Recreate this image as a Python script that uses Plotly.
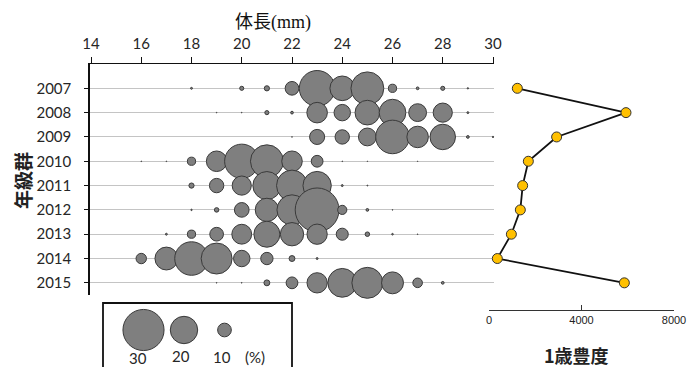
import plotly.graph_objects as go

# ---------------- data ----------------
years = [2007, 2008, 2009, 2010, 2011, 2012, 2013, 2014, 2015]
lengths_mm = [16, 17, 18, 19, 20, 21, 22, 23, 24, 25, 26, 27, 28, 29, 30]

pct_2007 = [0, 0, 1.4, 0, 3, 3.8, 10, 26, 18, 24, 6, 2, 3, 1, 0]
pct_2008 = [0, 0, 0, 0.5, 0.5, 3, 2, 15, 12, 18, 19.5, 13, 14, 1.4, 0]
pct_2009 = [0, 0, 0, 0, 0, 0, 0.5, 11, 10.5, 13, 24.5, 15.7, 18.6, 2, 1]
pct_2010 = [0.5, 0.5, 6, 15, 25, 24, 15, 8.6, 0.5, 0.4, 0, 0.4, 0, 0, 0]
pct_2011 = [0, 0, 3.8, 10.5, 14, 20.5, 22.6, 20.7, 1.4, 0.7, 0, 0, 0, 0, 0]
pct_2012 = [0, 0, 1, 3.3, 10.7, 17, 22, 32, 6.7, 2, 0.5, 0, 0, 0, 0]
pct_2013 = [0, 1.4, 6, 10, 14.5, 19, 17, 14.8, 8.8, 3.3, 1.2, 0.5, 0, 0, 0]
pct_2014 = [7.6, 16.7, 24.5, 22.6, 12, 9, 4.3, 1.4, 0, 0, 0, 0, 0, 0, 0]
pct_2015 = [0, 0, 0, 0.5, 0.5, 4.3, 8.6, 14.8, 21, 22.6, 16, 7, 2, 0, 0]
pct_by_year = [pct_2007, pct_2008, pct_2009, pct_2010, pct_2011,
               pct_2012, pct_2013, pct_2014, pct_2015]

abundance_age1 = [1225, 5924, 2925, 1701, 1456, 1355, 967, 360, 5853]

legend_pct = [30, 20, 10]
legend_labels = ["30", "20", "10", "(%)"]

x_ticks = [14, 16, 18, 20, 22, 24, 26, 28, 30]
x2_ticks = [0, 4000, 8000]

# ---------------- figure ----------------
W, H = 696, 367
OFF = 8  # page body margin
def fx(px): return (px - OFF) / W
def fy(py): return 1 - (py - OFF) / H

SCALE = 1.37
bx, by, bs = [], [], []
for yr, row in zip(years, pct_by_year):
    for L, p in zip(lengths_mm, row):
        if p > 0:
            bx.append(L); by.append(yr); bs.append(SCALE * p)

fig = go.Figure()
fig.add_trace(go.Scatter(
    x=bx, y=by, mode="markers", cliponaxis=False, showlegend=False,
    marker=dict(size=bs, sizemode="diameter", color="#7f7f7f", opacity=1,
                line=dict(color="#3a3a3a", width=1)),
    xaxis="x", yaxis="y"))

fig.add_trace(go.Scatter(
    x=abundance_age1, y=years, mode="lines+markers", cliponaxis=False,
    showlegend=False,
    line=dict(color="#111111", width=1.8),
    marker=dict(size=10, color="#FFC000", opacity=1,
                line=dict(color="#333333", width=1)),
    xaxis="x2", yaxis="y2"))

fig.add_trace(go.Scatter(
    x=[0, 1, 2], y=[27, 27, 27], mode="markers", cliponaxis=False,
    showlegend=False,
    marker=dict(size=[SCALE * v for v in legend_pct], sizemode="diameter",
                color="#7f7f7f", opacity=1,
                line=dict(color="#3a3a3a", width=1)),
    xaxis="x3", yaxis="y3"))

tickfont = dict(family="Lato, Open Sans, sans-serif", size=15, color="#262626")

fig.update_layout(
    width=W, height=H, margin=dict(l=0, r=0, t=0, b=0, autoexpand=False),
    paper_bgcolor="white", plot_bgcolor="rgba(0,0,0,0)",
    xaxis=dict(domain=[fx(90), fx(494)], range=[13.96, 30.04], side="top",
               anchor="y", showline=True, linecolor="#111", linewidth=1,
               ticks="outside", ticklen=6, tickcolor="#111",
               tickvals=x_ticks, tickfont=tickfont, showgrid=False,
               zeroline=False, ticklabelstandoff=2, automargin=False),
    yaxis=dict(domain=[fy(295), fy(64)], range=[2015.5, 2006], anchor="x",
               showline=True, linecolor="#111", linewidth=1.5,
               ticks="outside", ticklen=4, tickcolor="#111",
               tickvals=years, tickfont=tickfont, showgrid=True,
               gridcolor="#c4c4c4", gridwidth=1, zeroline=False,
               ticklabelstandoff=10, automargin=False),
    xaxis2=dict(domain=[fx(489), fx(674)], range=[0, 8000], anchor="free",
                position=fy(310), showline=True, linecolor="#333",
                linewidth=1.2, ticks="inside", ticklen=5, tickcolor="#333",
                tickvals=x2_ticks,
                tickfont=dict(family="Liberation Sans, Arial", size=11,
                              color="#222"),
                showgrid=False, zeroline=False, automargin=False),
    yaxis2=dict(domain=[fy(295), fy(64)], range=[2015.5, 2006], anchor="x2",
                visible=False, showgrid=False, automargin=False),
    xaxis3=dict(domain=[fx(103), fx(292)], range=[-1, 3.667], anchor="y3",
                visible=False, automargin=False),
    yaxis3=dict(domain=[fy(367), fy(303)], range=[64, 0], anchor="x3",
                visible=False, automargin=False),
)

fig.add_shape(type="rect", xref="paper", yref="paper",
              x0=fx(103), x1=fx(292), y0=-0.2, y1=fy(303),
              line=dict(color="#111", width=1.8), fillcolor="rgba(0,0,0,0)")

cjk = "Noto Sans CJK JP"
fig.add_annotation(xref="paper", yref="paper", x=fx(273), y=fy(20),
                   text="体長<span style='font-family:Liberation Serif'>(mm)</span>",
                   showarrow=False, xanchor="center", yanchor="middle",
                   font=dict(family=cjk, size=18, color="#111"))
fig.add_annotation(xref="paper", yref="paper", x=fx(22), y=fy(181),
                   text="<b>年級群</b>", textangle=-90, showarrow=False,
                   xanchor="center", yanchor="middle",
                   font=dict(family=cjk, size=19, color="#222"))
fig.add_annotation(xref="paper", yref="paper", x=fx(576), y=fy(355),
                   text="<b>1歳豊度</b>", showarrow=False, xanchor="center",
                   yanchor="middle", font=dict(family=cjk, size=18, color="#222"))

legend_label_px = [(137.6, 357.5), (181, 355.5), (221.5, 357), (254.5, 357)]
for lab, (px, py) in zip(legend_labels, legend_label_px):
    fig.add_annotation(xref="paper", yref="paper", x=fx(px), y=fy(py),
                       text=lab, showarrow=False, xanchor="center",
                       yanchor="middle", font=tickfont)

fig.write_html("out.html")
